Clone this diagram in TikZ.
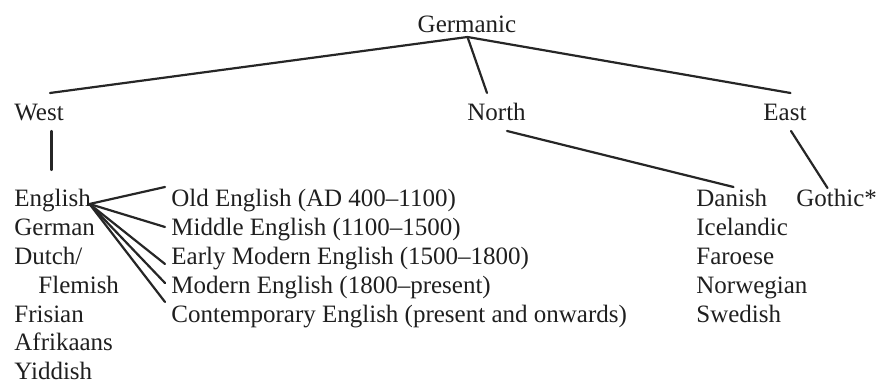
\documentclass[tikz,border=0pt]{standalone}
\usepackage{fontspec}
\setmainfont{Liberation Serif}
\begin{document}
\begin{tikzpicture}[x=0.5pt,y=-0.5pt,
  lbl/.style={inner sep=0pt, anchor=base west, text=black!88, font=\fontsize{12.5}{14}\selectfont},
  conn/.style={line width=1.1pt, draw=black!85, line cap=round}]
\useasboundingbox (0,0) rectangle (878,383);
% top levels
\node[lbl, anchor=base] (germanic) at (467,33) {Germanic};
\node[lbl] (west) at (14,121) {West};
\node[lbl] (north) at (467,121) {North};
\node[lbl] (east) at (763,121) {East};
% west column
\node[lbl] (english) at (14,206.5) {English};
\node[lbl] (german) at (14,235.4) {German};
\node[lbl] (dutch) at (14,264.3) {Dutch/};
\node[lbl] (flemish) at (38,293.2) {Flemish};
\node[lbl] (frisian) at (14,322.1) {Frisian};
\node[lbl] (afrikaans) at (14,351) {Afrikaans};
\node[lbl] (yiddish) at (14,379.9) {Yiddish};
% english periods
\node[lbl] (old) at (171,206.5) {Old English (AD 400–1100)};
\node[lbl] (middle) at (171,235.4) {Middle English (1100–1500)};
\node[lbl] (early) at (171,264.3) {Early Modern English (1500–1800)};
\node[lbl] (modern) at (171,293.2) {Modern English (1800–present)};
\node[lbl] (contemp) at (171,322.1) {Contemporary English (present and onwards)};
% north column
\node[lbl] (danish) at (696,206.5) {Danish};
\node[lbl] (icelandic) at (696,235.4) {Icelandic};
\node[lbl] (faroese) at (696,264.3) {Faroese};
\node[lbl] (norwegian) at (696,293.2) {Norwegian};
\node[lbl] (swedish) at (696,322.1) {Swedish};
% east column
\node[lbl] (gothic) at (796,206.5) {Gothic*};
% connector end points
\coordinate (gS) at (467.5,37);
\coordinate (wTop) at (50,93);
\coordinate (nTop) at (487,93);
\coordinate (eTop) at (790.5,93);
\coordinate (wBot) at (51.5,131);
\coordinate (wEnd) at (51.5,170);
\coordinate (nBot) at (507,131);
\coordinate (daTop) at (733.5,187);
\coordinate (eBot) at (791,131);
\coordinate (goTop) at (827.5,188);
\coordinate (enR) at (89.5,204);
\coordinate (oldL) at (165,187);
\coordinate (midL) at (165,227);
\coordinate (earL) at (165,264);
\coordinate (modL) at (165,283);
\coordinate (conL) at (165,302);
% connectors
\draw[conn] (gS) -- (wTop);
\draw[conn] (gS) -- (nTop);
\draw[conn] (gS) -- (eTop);
\draw[conn] (wBot) -- (wEnd);
\draw[conn] (nBot) -- (daTop);
\draw[conn] (eBot) -- (goTop);
\draw[conn] (enR) -- (oldL);
\draw[conn] (enR) -- (midL);
\draw[conn] (enR) -- (earL);
\draw[conn] (enR) -- (modL);
\draw[conn] (enR) -- (conL);
\end{tikzpicture}
\end{document}
